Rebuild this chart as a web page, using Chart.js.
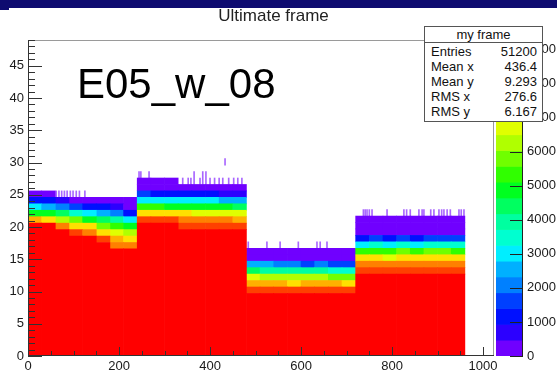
<!DOCTYPE html>
<html>
<head>
<meta charset="utf-8">
<script src="https://cdn.jsdelivr.net/npm/chart.js@4.4.0/dist/chart.umd.min.js"></script>
<style>
  body { margin: 0; background: #fff; }
  #wrap { position: relative; width: 557px; height: 371px; overflow: hidden; background: #fff;
          font-family: "Liberation Sans", Arial, sans-serif; }
  #topbar { position: absolute; left: 0; top: 0; width: 557px; height: 8px; background: #0e0b70; }
  #topbar2 { position: absolute; left: 0; top: 0; width: 9px; height: 10px; background: #0e0b70; }
  canvas { position: absolute; top: 0; }
  #hist { left: 0; }
  #pal { left: 496px; }
  #title { position: absolute; top: 6px; left: 0; width: 547px; text-align: center; font-size: 17px; color: #222; }
  #tag { position: absolute; left: 77px; top: 60px; font-size: 42px; color: #000; }
  #stats { position: absolute; left: 424px; top: 26px; width: 117px; border: 1px solid #555; background: #fff;
           font-size: 13px; color: #111; }
  #stats .head { text-align: center; line-height: 15px; border-bottom: 1px solid #555; }
  #stats .rows { padding: 1px 5px 2px 6px; }
  #stats .row { display: flex; justify-content: space-between; line-height: 15px; }
</style>
</head>
<body>
<div id="wrap">
  <canvas id="hist" width="557" height="371"></canvas>
  <canvas id="pal" width="61" height="371"></canvas>
  <div id="topbar"></div><div id="topbar2"></div>
  <div id="title">Ultimate frame</div>
  <div id="tag">E05_w_08</div>
  <div id="stats">
    <div class="head">my frame</div>
    <div class="rows" id="statRows"></div>
  </div>
</div>
<script>
// ---- data ----
// x centre of each 30-wide column (4 blocks of 240)
const colX = [15, 45, 75, 105, 135, 165, 195, 225,
              255, 285, 315, 345, 375, 405, 435, 465,
              495, 525, 555, 585, 615, 645, 675, 705,
              735, 765, 795, 825, 855, 885, 915, 945];
// y where the solid red (full) region ends in each column
const redTop = [20.6, 20.6, 19.6, 18.6, 18.6, 17.6, 16.6, 16.6,
                20.6, 20.6, 20.6, 19.6, 19.6, 19.6, 19.6, 19.6,
                9.7, 9.7, 9.7, 9.7, 9.7, 9.7, 9.7, 9.7,
                12.7, 12.7, 12.7, 12.7, 12.7, 12.7, 12.7, 12.7];
// counts of the 1-wide y bins stacked above the red region
const fadeCounts = [
  [7500, 5100, 3000, 1200, 250],
  [7200, 4800, 2700, 1000, 200],
  [8200, 6400, 4200, 2100, 650],
  [8500, 7300, 5600, 3600, 1500, 300],
  [8300, 7000, 5000, 2900, 1200, 250],
  [8400, 7400, 6000, 4300, 2500, 1000, 250],
  [8300, 7600, 6700, 5200, 3800, 2000, 800, 200],
  [8000, 7200, 6100, 4700, 3100, 1300, 400, 150],
  [8600, 7400, 5300, 3100, 1400, 350, 150],
  [8500, 7300, 5200, 3000, 1300, 300, 150],
  [8600, 7200, 5000, 2900, 1200, 300, 120],
  [8800, 8100, 7000, 5000, 3000, 1100, 300],
  [8700, 8000, 6800, 4800, 2800, 1000, 250],
  [8800, 8100, 6900, 4900, 2900, 1100, 300],
  [8700, 7900, 6700, 4700, 2700, 900, 250],
  [8600, 7800, 6600, 4600, 2600, 900, 250],
  [8700, 7700, 6500, 4300, 2700, 450, 200],
  [8600, 7600, 6300, 4100, 2500, 400, 200],
  [8500, 7500, 6200, 3900, 2000, 400, 200],
  [8600, 7400, 6100, 3900, 1900, 350, 180],
  [8500, 7500, 6200, 4000, 1800, 380, 180],
  [8700, 7600, 6300, 4000, 1900, 400, 200],
  [8600, 7500, 6000, 3700, 1600, 350, 150],
  [8500, 7400, 5900, 3600, 1500, 300, 150],
  [8800, 8100, 7100, 5400, 3100, 1200, 400, 250, 150],
  [8700, 8000, 7000, 5500, 3300, 1400, 420, 250, 150],
  [8800, 8100, 6900, 5300, 3100, 1300, 400, 230, 140],
  [8700, 8000, 7100, 5600, 3400, 1500, 450, 260, 160],
  [8800, 8100, 7000, 5400, 3200, 1300, 400, 240, 150],
  [8800, 8100, 7200, 5700, 3500, 1500, 430, 250, 150],
  [8800, 8200, 7300, 5800, 3600, 1600, 450, 260, 160],
  [8700, 8000, 7100, 5500, 3300, 1400, 420, 240, 150]
];
// sparse single bins sticking out above the blocks
const spikeX = [62, 68, 74, 80, 86, 93, 99, 106, 113, 125,
                244, 248, 266, 340, 352, 358, 365, 378, 384, 391, 400, 410, 420, 428, 433, 441, 452, 461, 470,
                484, 525, 554, 594, 635, 642, 657,
                737, 741, 745, 750, 756, 789, 826, 832, 840, 859, 866, 870, 885, 892, 903, 909, 914, 921, 928, 947, 952, 958];
const spikeLow = [24.6, 24.6, 24.6, 24.6, 24.6, 24.6, 24.6, 24.6, 24.6, 24.6,
                  27.6, 27.6, 27.6, 26.6, 26.6, 26.6, 26.6, 26.6, 26.6, 26.6, 26.6, 26.6, 26.6, 26.6, 29.6, 26.6, 26.6, 26.6, 26.6,
                  16.7, 16.7, 16.7, 16.7, 16.7, 16.7, 16.7,
                  21.7, 21.7, 21.7, 21.7, 21.7, 21.7, 21.7, 21.7, 21.7, 21.7, 21.7, 21.7, 21.7, 21.7, 21.7, 21.7, 21.7, 21.7, 21.7, 21.7, 21.7, 21.7];
const spikeHigh = [25.6, 25.6, 25.6, 25.6, 25.6, 25.6, 25.6, 25.6, 25.6, 25.6,
                   28.6, 28.6, 28.6, 27.6, 27.6, 27.6, 28.6, 27.6, 28.6, 28.6, 27.6, 27.6, 27.6, 27.6, 30.6, 27.6, 27.6, 27.6, 27.6,
                   17.7, 17.7, 17.7, 17.7, 17.7, 17.7, 17.7,
                   22.7, 22.7, 22.7, 22.7, 22.7, 22.7, 22.7, 22.7, 22.7, 22.7, 22.7, 22.7, 22.7, 22.7, 22.7, 22.7, 22.7, 22.7, 22.7, 22.7, 22.7, 22.7];

// contour levels of the colour scale (20 bands)
const zEdges = [0, 464, 928, 1392, 1856, 2320, 2784, 3248, 3712, 4176, 4640,
                5104, 5568, 6032, 6496, 6960, 7424, 7888, 8352, 8816, 9280];
const xTickLabels = [0, 200, 400, 600, 800, 1000];
const yTickLabels = [0, 5, 10, 15, 20, 25, 30, 35, 40, 45];
const zTickLabels = [0, 1000, 2000, 3000, 4000, 5000, 6000, 7000, 8000, 9000];

const statNames = ['Entries', 'Mean x', 'Mean y', 'RMS x', 'RMS y'];
const statValues = ['51200', '436.4', '9.293', '276.6', '6.167'];

// rainbow palette, violet -> red
const palette = ['#7000ff', '#2c00ff', '#0010ff', '#0040ff', '#0080ff', '#00b0ff', '#00eeff',
                 '#00ffd0', '#00ffa0', '#00ff60', '#00ff20', '#30ff00', '#70ff00', '#b0ff00',
                 '#e0ff00', '#ffe000', '#ffb000', '#ff8000', '#ff4000', '#ff0000'];

function colorFor(count) {
  let lvl = 0;
  for (let i = 0; i < zEdges.length - 1; i++) if (count >= zEdges[i]) lvl = i;
  return palette[lvl];
}

Chart.defaults.font.family = '"Liberation Sans", Arial, sans-serif';
Chart.defaults.font.size = 13;
Chart.defaults.color = '#1a1a1a';

document.getElementById('statRows').innerHTML = statNames
  .map((n, i) => `<div class="row"><span>${n}</span><span>${statValues[i]}</span></div>`).join('');

// build the stacked cell layers
const barOpts = { grouped: false, barPercentage: 1, categoryPercentage: 1, borderWidth: 0, borderSkipped: false };
const datasets = [{
  ...barOpts,
  data: colX.map((x, i) => ({ x, y: [0, redTop[i]] })),
  backgroundColor: palette[19]
}];
const maxLayers = Math.max(...fadeCounts.map(f => f.length));
for (let j = 0; j < maxLayers; j++) {
  datasets.push({
    ...barOpts,
    data: colX.map((x, i) => j < fadeCounts[i].length
      ? { x, y: [redTop[i] + j, redTop[i] + j + 1] } : { x, y: null }),
    backgroundColor: colX.map((x, i) => j < fadeCounts[i].length ? colorFor(fadeCounts[i][j]) : 'rgba(0,0,0,0)')
  });
}
datasets.push({
  ...barOpts,
  xAxisID: 'xs',
  barThickness: 1,
  data: spikeX.map((x, i) => ({ x, y: [spikeLow[i], spikeHigh[i]] })),
  backgroundColor: 'rgba(112,0,255,0.6)'
});

// frame + inward ticks like ROOT
const frameTicks = {
  id: 'frameTicks',
  afterDatasetsDraw(chart) {
    const { ctx, chartArea: a, scales: { x, y } } = chart;
    ctx.save();
    ctx.lineWidth = 1;
    ctx.strokeStyle = '#9a9a9a';
    ctx.beginPath();
    ctx.moveTo(a.left, a.top + 0.5); ctx.lineTo(a.right, a.top + 0.5);
    ctx.moveTo(a.right - 0.5, a.top); ctx.lineTo(a.right - 0.5, a.bottom);
    ctx.stroke();
    ctx.strokeStyle = '#333';
    ctx.beginPath();
    ctx.moveTo(a.left + 0.5, a.top); ctx.lineTo(a.left + 0.5, a.bottom);
    ctx.moveTo(a.left, a.bottom - 0.5); ctx.lineTo(a.right, a.bottom - 0.5);
    for (let v = 0; v <= 49; v++) {
      const py = Math.round(y.getPixelForValue(v)) + 0.5;
      const len = v % 5 === 0 ? 14 : 7;
      ctx.moveTo(a.left, py); ctx.lineTo(a.left + len, py);
    }
    for (let v = 0; v <= 1000; v += 50) {
      const px = Math.round(x.getPixelForValue(v)) + 0.5;
      const len = v % 200 === 0 ? 9 : 5;
      ctx.moveTo(px, a.bottom); ctx.lineTo(px, a.bottom - len);
    }
    ctx.stroke();
    ctx.restore();
  }
};

new Chart(document.getElementById('hist'), {
  type: 'bar',
  data: { datasets },
  options: {
    responsive: false,
    animation: false,
    events: [],
    layout: { padding: { top: 40, right: 63, bottom: 0, left: 0 } },
    plugins: { legend: { display: false }, tooltip: { enabled: false } },
    scales: {
      x: {
        type: 'linear', min: 0, max: 1024, offset: false,
        grid: { display: false, drawTicks: false }, border: { display: false },
        afterBuildTicks: s => { s.ticks = xTickLabels.map(v => ({ value: v })); },
        ticks: { padding: 3, callback: v => String(v), maxRotation: 0 },
        afterFit: s => { s.height = 15; }
      },
      xs: { type: 'linear', min: 0, max: 1024, offset: false, display: false },
      y: {
        min: 0, max: 49,
        grid: { display: false, drawTicks: false }, border: { display: false },
        afterBuildTicks: s => { s.ticks = yTickLabels.map(v => ({ value: v })); },
        ticks: { padding: 4, callback: v => String(v) },
        afterFit: s => { s.width = 28; }
      }
    }
  },
  plugins: [frameTicks]
});

// colour scale on the right
const palTicks = {
  id: 'palTicks',
  afterDatasetsDraw(chart) {
    const { ctx, chartArea: a, scales: { y } } = chart;
    ctx.save();
    ctx.strokeStyle = '#222';
    ctx.lineWidth = 1;
    ctx.beginPath();
    zTickLabels.forEach(v => {
      const py = Math.round(y.getPixelForValue(v)) + 0.5;
      ctx.moveTo(a.right - 13, py); ctx.lineTo(a.right, py);
    });
    ctx.moveTo(a.right - 0.5, a.top); ctx.lineTo(a.right - 0.5, a.bottom);
    ctx.stroke();
    ctx.restore();
  }
};

new Chart(document.getElementById('pal'), {
  type: 'bar',
  data: {
    datasets: [{
      ...barOpts,
      data: zEdges.slice(0, -1).map((z, i) => ({ x: 0, y: [z, zEdges[i + 1]] })),
      backgroundColor: palette
    }]
  },
  options: {
    responsive: false,
    animation: false,
    events: [],
    layout: { padding: { top: 40, right: 0, bottom: 15, left: 0 } },
    plugins: { legend: { display: false }, tooltip: { enabled: false } },
    scales: {
      x: { type: 'linear', min: -0.5, max: 0.5, offset: false, display: false },
      y: {
        position: 'right', min: 0, max: 9280,
        grid: { display: false, drawTicks: false }, border: { display: false },
        afterBuildTicks: s => { s.ticks = zTickLabels.map(v => ({ value: v })); },
        ticks: { padding: 4, callback: v => String(v) },
        afterFit: s => { s.width = 34; }
      }
    }
  },
  plugins: [palTicks]
});
</script>
</body>
</html>
